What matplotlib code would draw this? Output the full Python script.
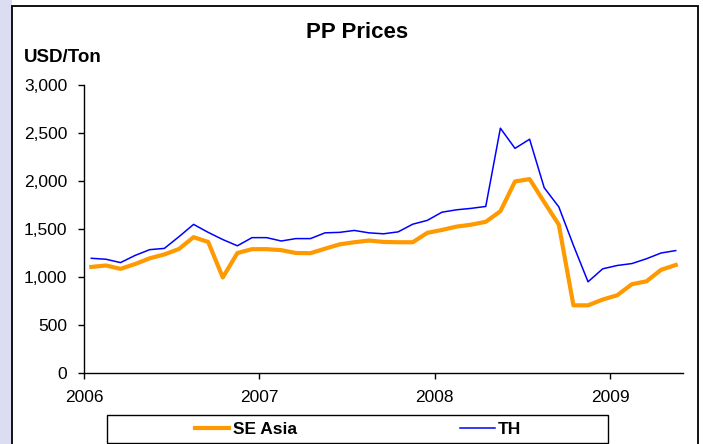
import matplotlib
matplotlib.use('Agg')
from matplotlib import pyplot as plt
from matplotlib.patches import Rectangle
from matplotlib.ticker import FuncFormatter
import numpy as np

plt.rcParams['font.family'] = ['Liberation Sans', 'DejaVu Sans']

# monthly prices, Jan 2006 .. May 2009 (USD/Ton)
months = [f'{y}-{m:02d}' for y in (2006, 2007, 2008, 2009) for m in range(1, 13)][:41]
se_asia = [1105, 1120, 1085, 1135, 1195, 1235, 1292, 1415, 1365, 995, 1250, 1290,
           1290, 1280, 1250, 1248, 1295, 1340, 1362, 1380, 1365, 1362, 1362, 1460,
           1490, 1525, 1545, 1575, 1685, 1995, 2020, 1780, 1545, 705, 705, 765,
           810, 925, 955, 1075, 1125]
th = [1195, 1185, 1150, 1225, 1285, 1298, 1420, 1548, 1465, 1390, 1325, 1410,
      1410, 1375, 1400, 1400, 1460, 1465, 1485, 1460, 1450, 1470, 1550, 1590,
      1675, 1700, 1715, 1735, 2550, 2340, 2435, 1930, 1730, 1330, 950, 1085,
      1120, 1140, 1190, 1250, 1275]
year_ticks = [2006, 2007, 2008, 2009]

# place each month at its middle on a year axis
x = np.array([int(s[:4]) + (int(s[5:]) - 0.5) / 12 for s in months])

fig = plt.figure(figsize=(7.03, 4.44), dpi=100)
W, H = 703, 444

# lavender strip at the left edge and the outer chart frame
fig.patches.append(Rectangle((0, 0), 12 / W, 1, transform=fig.transFigure,
                             facecolor='#dcdcf2', edgecolor='none', zorder=0))
fig.patches.append(Rectangle((12 / W, -0.05), 686 / W, 1.05 - 6 / H, transform=fig.transFigure,
                             facecolor='white', edgecolor='black', linewidth=1.3, zorder=1))

ax = fig.add_axes([84 / W, 1 - 373 / H, (683 - 84) / W, 288 / H])
ax.set_facecolor('none')
ax.set_zorder(2)

ax.plot(x, se_asia, color='#FF9900', linewidth=3, label='SE Asia')
ax.plot(x, th, color='#0000FF', linewidth=1.1, label='TH')

ax.set_xlim(2006, x[-1] + 0.5 / 12)
ax.set_ylim(0, 3000)
ax.set_xticks(year_ticks)
ax.set_yticks(range(0, 3001, 500))
ax.yaxis.set_major_formatter(FuncFormatter(lambda v, p: f'{int(v):,}'))

for s in ('top', 'right'):
    ax.spines[s].set_visible(False)
for s in ('left', 'bottom'):
    ax.spines[s].set_linewidth(1)
ax.tick_params(axis='y', direction='out', length=4, width=1, pad=8, labelsize=12.5)
ax.tick_params(axis='x', direction='out', length=4, width=1, pad=8, labelsize=12.5)

fig.text(357 / W, 1 - 32 / H, 'PP Prices', ha='center', va='center',
         fontsize=16, fontweight='bold')
fig.text(24 / W, 1 - 57 / H, 'USD/Ton', ha='left', va='center',
         fontsize=13.5, fontweight='bold')

# legend box below the axes
fig.patches.append(Rectangle((107 / W, 1 - 443 / H), 501 / W, 28 / H, transform=fig.transFigure,
                             facecolor='white', edgecolor='black', linewidth=1, zorder=3))
leg = fig.legend(loc='center', bbox_to_anchor=(358 / W, 1 - 429 / H), ncol=2,
                 frameon=False, handlelength=2.0, handletextpad=0.2,
                 columnspacing=9.4, prop={'weight': 'bold', 'size': 12.5})
leg.set_zorder(4)

fig.savefig('out.png', dpi=100)
